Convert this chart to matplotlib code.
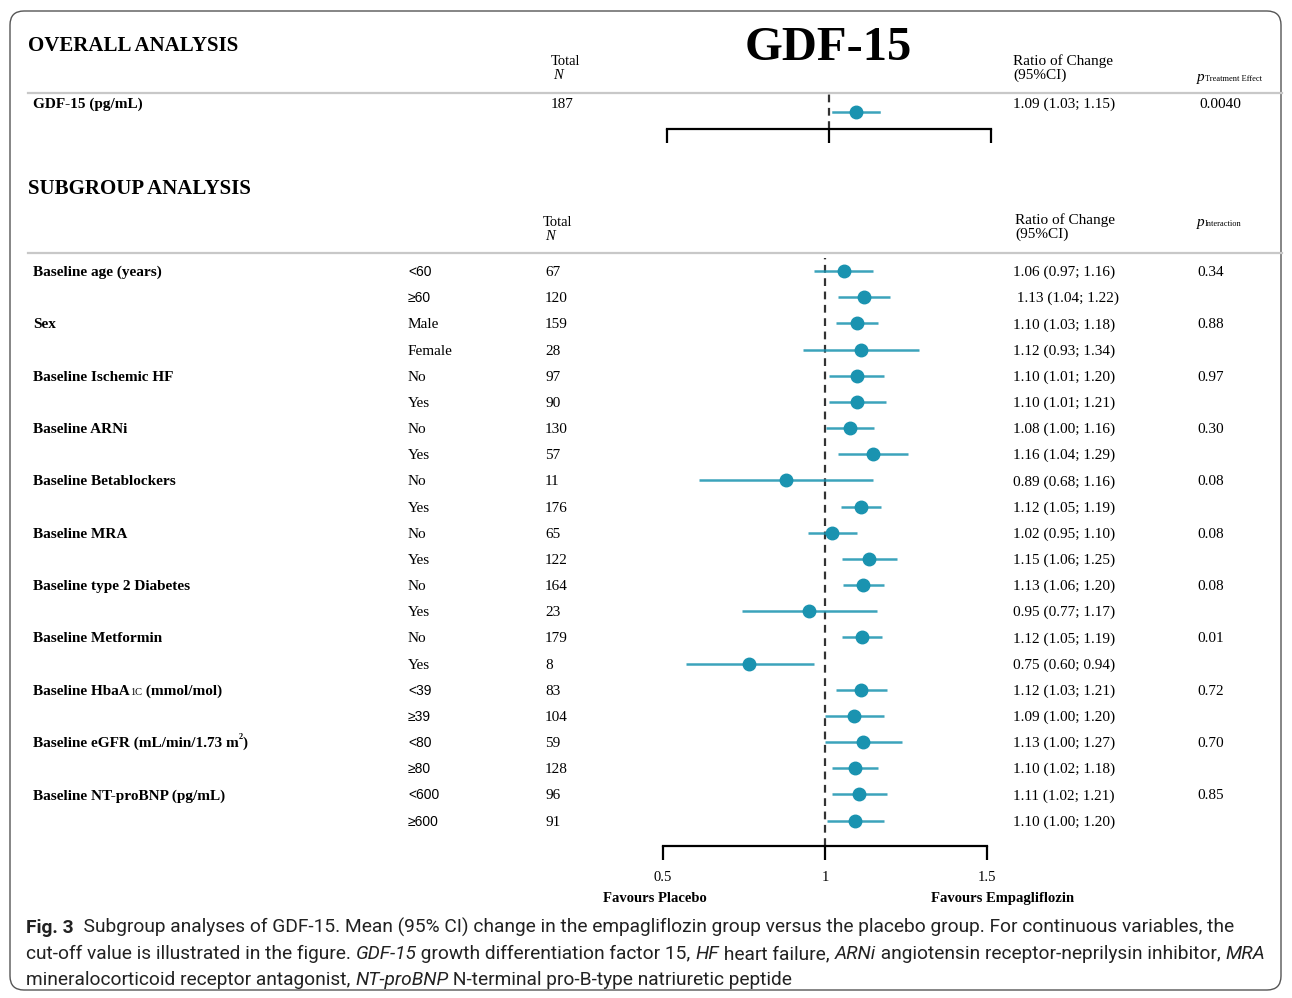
import numpy as np
import matplotlib
matplotlib.use("Agg")
import matplotlib.pyplot as plt
from matplotlib.patches import FancyBboxPatch

# ---- data ----
overall_n = 187
overall_est, overall_lo, overall_hi = 1.082, 1.012, 1.154
overall_text = "1.09 (1.03; 1.15)"
overall_p = "0.0040"

groups = ["Baseline age (years)", "Sex", "Baseline Ischemic HF", "Baseline ARNi",
          "Baseline Betablockers", "Baseline MRA", "Baseline type 2 Diabetes",
          "Baseline Metformin", "Baseline HbaA1C (mmol/mol)",
          "Baseline eGFR (mL/min/1.73 m2)", "Baseline NT-proBNP (pg/mL)"]
subgroups = ["<60", "≥60", "Male", "Female", "No", "Yes", "No", "Yes", "No", "Yes",
             "No", "Yes", "No", "Yes", "No", "Yes", "<39", "≥39", "<80", "≥80",
             "<600", "≥600"]
n_total = [67, 120, 159, 28, 97, 90, 130, 57, 11, 176, 65, 122, 164, 23, 179, 8,
           83, 104, 59, 128, 96, 91]
est = [1.059, 1.120, 1.098, 1.111, 1.098, 1.100, 1.076, 1.147, 0.880, 1.110, 1.022,
       1.137, 1.118, 0.951, 1.115, 0.765, 1.112, 1.090, 1.118, 1.092, 1.105, 1.094]
ci_lo = [0.967, 1.041, 1.034, 0.932, 1.012, 1.012, 1.003, 1.041, 0.612, 1.049, 0.948,
         1.054, 1.057, 0.743, 1.054, 0.571, 1.034, 0.999, 0.999, 1.021, 1.021, 1.005]
ci_hi = [1.149, 1.201, 1.163, 1.291, 1.183, 1.187, 1.151, 1.255, 1.149, 1.173, 1.098,
         1.222, 1.181, 1.160, 1.176, 0.967, 1.190, 1.181, 1.238, 1.164, 1.190, 1.182]
ratio_text = ["1.06 (0.97; 1.16)", " 1.13 (1.04; 1.22)", "1.10 (1.03; 1.18)",
              "1.12 (0.93; 1.34)", "1.10 (1.01; 1.20)", "1.10 (1.01; 1.21)",
              "1.08 (1.00; 1.16)", "1.16 (1.04; 1.29)", "0.89 (0.68; 1.16)",
              "1.12 (1.05; 1.19)", "1.02 (0.95; 1.10)", "1.15 (1.06; 1.25)",
              "1.13 (1.06; 1.20)", "0.95 (0.77; 1.17)", "1.12 (1.05; 1.19)",
              "0.75 (0.60; 0.94)", "1.12 (1.03; 1.21)", "1.09 (1.00; 1.20)",
              "1.13 (1.00; 1.27)", "1.10 (1.02; 1.18)", "1.11 (1.02; 1.21)",
              "1.10 (1.00; 1.20)"]
p_inter = ["0.34", "0.88", "0.97", "0.30", "0.08", "0.08", "0.08", "0.01", "0.72",
           "0.70", "0.85"]
ticks = [0.5, 1, 1.5]

TEAL = "#1a93b0"
SERIF = ["Liberation Serif", "DejaVu Serif"]
SANS = ["Liberation Sans", "DejaVu Sans"]
CAP = ["Roboto", "DejaVu Sans"]

W, H = 1292, 998
fig = plt.figure(figsize=(W / 100, H / 100), dpi=100)
bg = fig.add_axes([0, 0, 1, 1])
bg.set_xlim(0, W)
bg.set_ylim(H, 0)
bg.axis("off")
renderer = fig.canvas.get_renderer()

box = FancyBboxPatch((10, 11), W - 21, H - 19, boxstyle="round,pad=0,rounding_size=14",
                     fc="none", ec="#555555", lw=1.0)
bg.add_patch(box)


def runs(x, y, parts, draw=True, **kw):
    # draw consecutive text pieces on one baseline, return end x
    for s, extra in parts:
        opts = dict(kw)
        opts.update(extra)
        dy = opts.pop("dy", 0)
        t = bg.text(x, y + dy, s, va="baseline", ha="left", **opts)
        x += t.get_window_extent(renderer).width
        if not draw:
            t.remove()
    return x


def serif(x, y, s, size=11, **kw):
    bg.text(x, y, s, family=SERIF, fontsize=size, va="baseline", ha="left", **kw)


# ---- overall header ----
serif(28, 51, "OVERALL ANALYSIS", size=15, weight="bold")
bg.text(828, 60, "GDF-15", family=SERIF, fontsize=35, weight="bold", ha="center", va="baseline")
serif(551, 65, "Total", size=10.5)
serif(553, 79, "N", size=10.5, style="italic")
serif(1013, 65, "Ratio of Change", size=11)
serif(1013, 79, "(95%CI)", size=11)
runs(1197, 81, [("p", dict(fontsize=11, style="italic")),
                ("Treatment Effect", dict(fontsize=6))], family=SERIF)
bg.plot([28, 1282], [93, 93], color="#c8c8c8", lw=1.6)

serif(33, 108, "GDF-15 (pg/mL)", weight="bold")
serif(551, 108, str(overall_n))
serif(1013, 108, overall_text)
serif(1199, 108, overall_p)

# ---- subgroup header ----
serif(28, 194, "SUBGROUP ANALYSIS", size=15, weight="bold")
serif(543, 226, "Total", size=10.5)
serif(545, 240, "N", size=10.5, style="italic")
serif(1015, 224, "Ratio of Change", size=11)
serif(1015, 238, "(95%CI)", size=11)
runs(1197, 226, [("p", dict(fontsize=11, style="italic")),
                 ("Interaction", dict(fontsize=6))], family=SERIF)
bg.plot([28, 1282], [253, 253], color="#c8c8c8", lw=1.6)

# ---- table rows ----
y0, dy = 271.0, 26.17
for i in range(len(subgroups)):
    yb = y0 + dy * i + 5
    if i % 2 == 0:
        g = groups[i // 2]
        if "A1C" in g:
            runs(33, yb, [("Baseline HbaA", {}), ("1C", dict(fontsize=7.5, weight="normal")),
                          (" (mmol/mol)", {})], family=SERIF, fontsize=11, weight="bold")
        elif "m2" in g:
            runs(33, yb, [("Baseline eGFR (mL/min/1.73 m", {}),
                          ("2", dict(fontsize=6, dy=-8)), (")", {})],
                 family=SERIF, fontsize=11, weight="bold")
        else:
            serif(33, yb, g, weight="bold")
        serif(1197, yb, p_inter[i // 2])
    sg = subgroups[i]
    if sg[0] in "<≥":
        bg.text(408, yb, sg, family=SANS, fontsize=10, va="baseline", ha="left")
    else:
        serif(408, yb, sg)
    serif(545, yb, str(n_total[i]))
    serif(1013, yb, ratio_text[i])

# ---- overall forest ----
top_ax = fig.add_axes([667 / W, 1 - 129 / H, 324 / W, 36 / H])
top_ax.set_xlim(0.5, 1.5)
top_ax.set_ylim(17 / dy, -19 / dy)
top_ax.axvline(1, color="#333333", lw=1.6, ls=(0, (3.5, 2.5)))
top_ax.plot([overall_lo, overall_hi], [0, 0], color=TEAL, lw=1.8, alpha=0.85)
top_ax.plot([overall_est], [0], "o", color=TEAL, ms=9)

# ---- subgroup forest ----
ax = fig.add_axes([663 / W, 1 - 845.7 / H, 324 / W, (845.7 - 258) / H])
ax.set_xlim(0.5, 1.5)
rows = np.arange(len(est))
ax.set_ylim((845.7 - y0) / dy, (258 - y0) / dy)
ax.axvline(1, color="#333333", lw=1.6, ls=(0, (3.5, 2.5)))
ax.hlines(rows, ci_lo, ci_hi, color=TEAL, lw=1.8, alpha=0.85)
ax.plot(est, rows, "o", color=TEAL, ms=9)

for a in (top_ax, ax):
    for s in ("top", "left", "right"):
        a.spines[s].set_visible(False)
    a.spines["bottom"].set_linewidth(1.6)
    a.set_yticks([])
    a.set_xticks(ticks)
    a.tick_params(axis="x", direction="out", length=10, width=1.6, pad=8)
    a.patch.set_alpha(0)
top_ax.set_xticklabels([])
ax.set_xticklabels(["0.5", "1", "1.5"], family=SERIF, fontsize=10.5)

bg.text(655, 902, "Favours Placebo", family=SERIF, fontsize=10.5, weight="bold",
        ha="center", va="baseline")
bg.text(1003, 902, "Favours Empagliflozin", family=SERIF, fontsize=10.5, weight="bold",
        ha="center", va="baseline")

# ---- caption ----
N, I, B = {}, dict(style="italic"), dict(weight="bold")
cap_lines = [
    [("Fig. 3", B), ("  Subgroup analyses of GDF-15. Mean (95% CI) change in the empagliflozin group "
                     "versus the placebo group. For continuous variables, the", N)],
    [("cut-off value is illustrated in the figure. ", N), ("GDF-15", I),
     (" growth differentiation factor 15, ", N), ("HF", I), (" heart failure, ", N),
     ("ARNi", I), (" angiotensin receptor-neprilysin inhibitor, ", N), ("MRA", I)],
    [("mineralocorticoid receptor antagonist, ", N), ("NT-proBNP", I),
     (" N-terminal pro-B-type natriuretic peptide", N)],
]
# fit the first caption line to the width it has in the reference (x 26..1241)
cap_size = 14.0
line_w = runs(26, 933, cap_lines[0], draw=False, family=CAP, fontsize=cap_size) - 26
cap_size *= 1215 / line_w
for k, line in enumerate(cap_lines):
    runs(26, 933 + 26 * k, line, family=CAP, fontsize=cap_size, color="#222222")

fig.savefig("out.png", dpi=100)
